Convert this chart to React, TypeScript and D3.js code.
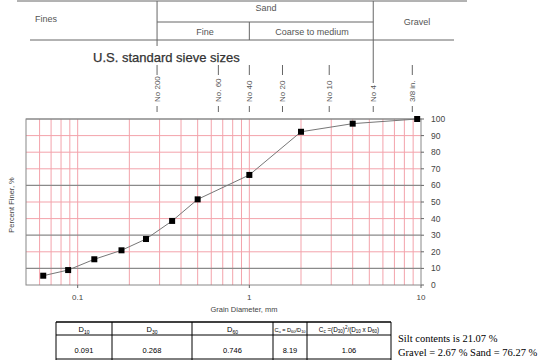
import React from "react";
import * as d3 from "d3";

const diameters = [0.063, 0.088, 0.125, 0.18, 0.25, 0.355, 0.5, 1, 2, 4, 9.5];
const percentFiner = [5.6, 9.0, 15.5, 20.9, 27.7, 38.6, 51.6, 66.3, 92.3, 97.2, 100];
const yTicks = [0, 10, 20, 30, 40, 50, 60, 70, 80, 90, 100];
const darkY = [10, 30, 60, 100];
const xLabels = [0.1, 1, 10];
const sieveNames = ["No 200", "No. 60", "No 40", "No 20", "No 10", "No 4", "3/8 in."];
const sievePos = [0.29, 0.66, 1.0, 1.56, 2.92, 5.27, 8.9];
const tableVals = ["0.091", "0.268", "0.746", "8.19", "1.06"];
const summary = ["Silt contents is 21.07 %", "Gravel = 2.67 % Sand = 76.27 %"];

const W = 557, H = 360;
const L = 26, R = 421, T = 119, B = 285;

export default function App() {
  const x = d3.scaleLog().domain([0.05, 10]).range([L, R]);
  const y = d3.scaleLinear().domain([0, 100]).range([B, T]);
  const minors: number[] = [];
  for (const dec of [0.01, 0.1, 1]) for (let k = 1; k <= 9; k++) {
    const v = dec * k;
    if (v > 0.05 && v < 10) minors.push(v);
  }
  const line = d3.line<number>().x((d, i) => x(diameters[i])).y((d) => y(d));
  const font = "Liberation Sans, Arial, sans-serif";
  const colX = [56, 112, 192, 273, 307, 391];
  const sx = (n: string) => x(sievePos[sieveNames.indexOf(n)]);
  return (
    <svg width={W} height={H} style={{ position: "absolute", left: 0, top: 0, background: "#fff" }} fontFamily={font}>
      {/* header classification table */}
      <g stroke="#666" strokeWidth={1}>
        <line x1={17} x2={467} y1={1} y2={1} />
        <line x1={30} x2={454} y1={40} y2={40} />
        <line x1={sx("No 200")} x2={sx("No 4")} y1={22} y2={22} />
        <line x1={sx("No 200")} x2={sx("No 200")} y1={1} y2={46} />
        <line x1={sx("No 40")} x2={sx("No 40")} y1={22} y2={40} />
        <line x1={sx("No 4")} x2={sx("No 4")} y1={1} y2={83} />
      </g>
      <g fill="#555" fontSize={9}>
        <text x={35} y={22}>Fines</text>
        <text x={266} y={11} textAnchor="middle">Sand</text>
        <text x={205} y={35} textAnchor="middle">Fine</text>
        <text x={312} y={35} textAnchor="middle">Coarse to medium</text>
        <text x={417} y={25} textAnchor="middle">Gravel</text>
      </g>
      <text x={93} y={62} fontSize={13} fill="#333" stroke="#333" strokeWidth={0.25}>U.S. standard sieve sizes</text>
      {/* sieve labels */}
      {sieveNames.map((n, i) => {
        const px = x(sievePos[i]);
        return (
          <g key={n}>
            {n !== "No 4" && <line x1={px} x2={px} y1={65} y2={75} stroke="#666" />}
            <line x1={px} x2={px} y1={106} y2={112} stroke="#666" />
            <text transform={`translate(${px + 2.8},${102}) rotate(-90)`} fontSize={8} fill="#555">{n}</text>
          </g>
        );
      })}
      {/* grid */}
      <g>
        {minors.map((v) => (
          <line key={"v" + v} x1={x(v)} x2={x(v)} y1={T} y2={B} stroke="#f3a3ab" strokeWidth={1} />
        ))}
        {yTicks.filter((v) => !darkY.includes(v) && v !== 0).map((v) => (
          <line key={"h" + v} x1={L} x2={R} y1={y(v)} y2={y(v)} stroke="#f3a3ab" strokeWidth={1} />
        ))}
        {darkY.map((v) => (
          <line key={"d" + v} x1={L} x2={R} y1={y(v)} y2={y(v)} stroke="#8a8a8a" strokeWidth={1.2} />
        ))}
        <rect x={L} y={T} width={R - L} height={B - T} fill="none" stroke="#888" strokeWidth={1} />
      </g>
      {/* y axis right */}
      <g fontSize={8.5} fill="#444">
        {yTicks.map((v) => (
          <g key={v}>
            <line x1={R} x2={R + 3} y1={y(v)} y2={y(v)} stroke="#666" />
            <text x={R + 10} y={y(v) + 3}>{v}</text>
          </g>
        ))}
      </g>
      {/* x labels */}
      <g fontSize={8} fill="#444">
        {xLabels.map((v) => (
          <g key={v}>
            <line x1={x(v)} x2={x(v)} y1={B} y2={B + 3} stroke="#666" />
            <text x={x(v)} y={300} textAnchor="middle">{v}</text>
          </g>
        ))}
        <text x={244} y={312} textAnchor="middle" fontSize={7.5}>Grain Diameter, mm</text>
        <text transform={`translate(14,205) rotate(-90)`} textAnchor="middle" fontSize={7.5}>Percent Finer, %</text>
      </g>
      {/* data */}
      <path d={line(percentFiner) || ""} fill="none" stroke="#777" strokeWidth={1} />
      {percentFiner.map((p, i) => (
        <rect key={i} x={x(diameters[i]) - 3} y={y(p) - 3} width={6} height={6} fill="#000" />
      ))}
      {/* bottom table */}
      <g stroke="#000">
        <line x1={colX[0]} x2={colX[5]} y1={322} y2={322} strokeWidth={1.5} />
        <line x1={colX[0]} x2={colX[5]} y1={335} y2={335} strokeWidth={1} />
        <line x1={colX[0]} x2={colX[5]} y1={359} y2={359} strokeWidth={1} />
        {colX.map((c, i) => (
          <line key={i} x1={c} x2={c} y1={322} y2={360} strokeWidth={1} />
        ))}
      </g>
      <g fontSize={7.5} fill="#000" textAnchor="middle">
        <text x={(colX[0] + colX[1]) / 2} y={332}>D<tspan fontSize={5} dy={1.5}>10</tspan></text>
        <text x={(colX[1] + colX[2]) / 2} y={332}>D<tspan fontSize={5} dy={1.5}>30</tspan></text>
        <text x={(colX[2] + colX[3]) / 2} y={332}>D<tspan fontSize={5} dy={1.5}>60</tspan></text>
        <text x={(colX[3] + colX[4]) / 2} y={331.5} fontSize={5.6}>C<tspan fontSize={4} dy={1.5}>u</tspan><tspan dy={-1.5}> = D</tspan><tspan fontSize={4} dy={1.5}>60</tspan><tspan dy={-1.5}>/D</tspan><tspan fontSize={4} dy={1.5}>10</tspan></text>
        <text x={(colX[4] + colX[5]) / 2} y={331.5} fontSize={6.3}>C<tspan fontSize={4.5} dy={1.5}>c</tspan><tspan dy={-1.5}> =(D</tspan><tspan fontSize={4.5} dy={1.5}>30</tspan><tspan dy={-1.5}>)</tspan><tspan fontSize={4.5} dy={-3}>2</tspan><tspan dy={3}>/(D</tspan><tspan fontSize={4.5} dy={1.5}>10</tspan><tspan dy={-1.5}> x D</tspan><tspan fontSize={4.5} dy={1.5}>60</tspan><tspan dy={-1.5}>)</tspan></text>
        {tableVals.map((v, i) => (
          <text key={v} x={(colX[i] + colX[i + 1]) / 2} y={353}>{v}</text>
        ))}
      </g>
      <g fontFamily="Liberation Serif, Times New Roman, serif" fontSize={10.5} fill="#000">
        <text x={398} y={342}>{summary[0]}</text>
        <text x={398} y={356}>{summary[1]}</text>
      </g>
    </svg>
  );
}
